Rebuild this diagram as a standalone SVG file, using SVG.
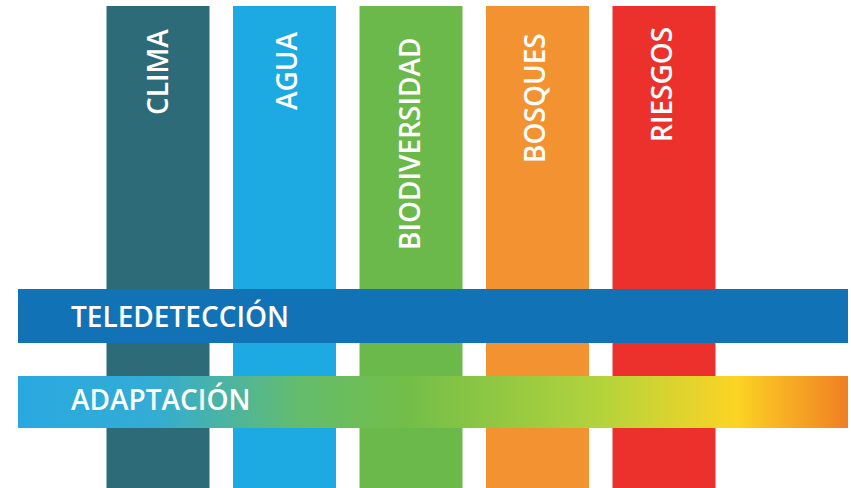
<svg xmlns="http://www.w3.org/2000/svg" width="851" height="488" viewBox="0 0 851 488">
<defs>
<style>
.lbl{font-family:"Open Sans","Liberation Sans",sans-serif;font-weight:600;fill:#ffffff;}
.v{font-size:28px;}
.h{font-size:28px;}
</style>
<linearGradient id="grad" x1="18" y1="0" x2="848" y2="0" gradientUnits="userSpaceOnUse">
<stop offset="0" stop-color="#29a9e1"/>
<stop offset="0.16" stop-color="#33acd6"/>
<stop offset="0.34" stop-color="#64bc6c"/>
<stop offset="0.47" stop-color="#73be48"/>
<stop offset="0.70" stop-color="#b3d33c"/>
<stop offset="0.865" stop-color="#fcd424"/>
<stop offset="1" stop-color="#f07f23"/>
</linearGradient>
</defs>
<rect width="851" height="488" fill="#ffffff"/>
<g id="clima">
<rect x="106.5" y="6" width="103" height="482" fill="#2e6b78"/>
<text class="lbl v" transform="translate(168,115) rotate(-90)">CLIMA</text>
</g>
<g id="agua">
<rect x="233" y="6" width="103" height="482" fill="#1da9e1"/>
<text class="lbl v" transform="translate(297,110) rotate(-90)">AGUA</text>
</g>
<g id="biodiversidad">
<rect x="359.5" y="6" width="103" height="482" fill="#6bb94a"/>
<text class="lbl v" transform="translate(420,250) rotate(-90)">BIODIVERSIDAD</text>
</g>
<g id="bosques">
<rect x="486" y="6" width="103" height="482" fill="#f29230"/>
<text class="lbl v" transform="translate(545,163) rotate(-90)">BOSQUES</text>
</g>
<g id="riesgos">
<rect x="612.5" y="6" width="103" height="482" fill="#ec302b"/>
<text class="lbl v" transform="translate(672,142) rotate(-90)">RIESGOS</text>
</g>
<g id="teledeteccion">
<rect x="18" y="289" width="830" height="54" fill="#1173b6"/>
<text class="lbl h" x="71" y="327">TELEDETECCIÓN</text>
</g>
<g id="adaptacion">
<rect x="18" y="376" width="830" height="52" fill="url(#grad)"/>
<text class="lbl h" x="71" y="410">ADAPTACIÓN</text>
</g>
<g id="connectors"></g>
</svg>
